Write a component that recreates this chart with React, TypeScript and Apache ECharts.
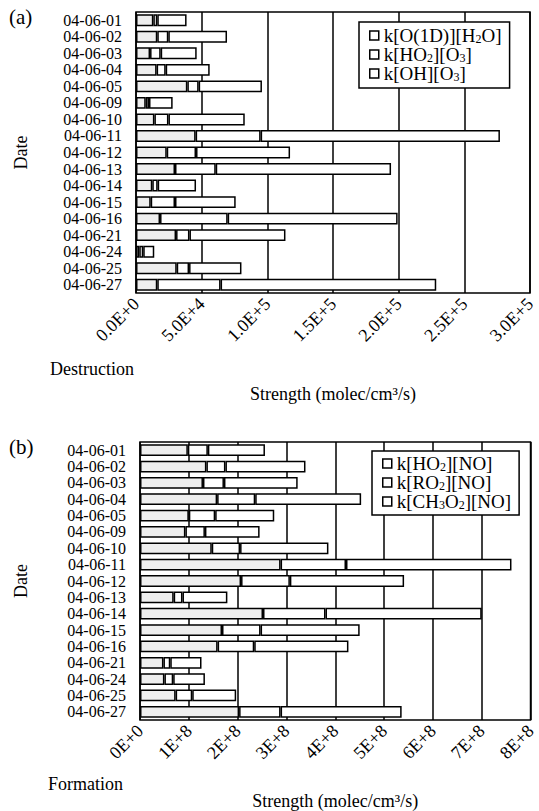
import React, { useEffect, useRef } from "react";
import * as echarts from "echarts";

const dates = [
  "04-06-01", "04-06-02", "04-06-03", "04-06-04", "04-06-05", "04-06-09",
  "04-06-10", "04-06-11", "04-06-12", "04-06-13", "04-06-14", "04-06-15",
  "04-06-16", "04-06-21", "04-06-24", "04-06-25", "04-06-27",
];

// (a) Destruction
const destNames = ["k[O(1D)][H2O]", "k[HO2][O3]", "k[OH][O3]"];
const destO1DH2O = [13200, 16200, 10700, 15700, 39100, 7400, 14000, 45400, 23400, 29700, 12400, 11200, 18300, 30500, 2500, 31000, 16200];
const destHO2O3 = [3000, 8400, 8100, 6900, 8600, 2500, 10700, 49500, 22300, 31000, 4100, 18500, 51500, 10200, 3000, 9400, 48200];
const destOHO3 = [22300, 44700, 27400, 33500, 48200, 18000, 58100, 182200, 71600, 133500, 29200, 46200, 129400, 73100, 8400, 39900, 164200];

// (b) Formation
const formNames = ["k[HO2][NO]", "k[RO2][NO]", "k[CH3O2][NO]"];
const formHO2NO = [0.98e8, 1.36e8, 1.29e8, 1.58e8, 1.0e8, 0.93e8, 1.47e8, 2.88e8, 2.07e8, 0.69e8, 2.52e8, 1.68e8, 1.59e8, 0.48e8, 0.5e8, 0.73e8, 2.03e8];
const formRO2NO = [0.41e8, 0.39e8, 0.43e8, 0.78e8, 0.54e8, 0.4e8, 0.58e8, 1.34e8, 1.0e8, 0.18e8, 1.28e8, 0.79e8, 0.75e8, 0.14e8, 0.18e8, 0.34e8, 0.85e8];
const formCH3O2NO = [1.17e8, 1.64e8, 1.51e8, 2.17e8, 1.21e8, 1.12e8, 1.81e8, 3.39e8, 2.34e8, 0.92e8, 3.2e8, 2.03e8, 1.93e8, 0.64e8, 0.65e8, 0.9e8, 2.48e8];

const legendRich: Record<string, string> = {
  "k[O(1D)][H2O]": "{t|k[O(1D)][H}{s|2}{t|O]}",
  "k[HO2][O3]": "{t|k[HO}{s|2}{t|][O}{s|3}{t|]}",
  "k[OH][O3]": "{t|k[OH][O}{s|3}{t|]}",
  "k[HO2][NO]": "{t|k[HO}{s|2}{t|][NO]}",
  "k[RO2][NO]": "{t|k[RO}{s|2}{t|][NO]}",
  "k[CH3O2][NO]": "{t|k[CH}{s|3}{t|O}{s|2}{t|][NO]}",
};

const FONT = "Liberation Serif";
const fills = ["#eeeeee", "#ffffff", "#ffffff"];

function sciFmt(v: number, digits: number) {
  if (v === 0) return (0).toFixed(digits) + "E+0";
  const e = Math.floor(Math.log10(v) + 1e-9);
  const m = v / Math.pow(10, e);
  return m.toFixed(digits) + "E+" + e;
}

export default function App() {
  const ref = useRef<HTMLDivElement>(null);
  useEffect(() => {
    if (!ref.current) return;
    const chart = echarts.init(ref.current, undefined, { renderer: "svg" });
    const axisLabel = { color: "#000", fontFamily: FONT, fontSize: 18 };
    const legendBase = (lh: number) => ({
      orient: "vertical" as const,
      icon: "rect",
      itemWidth: 9,
      itemHeight: 9,
      itemGap: 0,
      backgroundColor: "#fff",
      borderColor: "#000",
      borderWidth: 1.5,
      borderRadius: 0,
      formatter: (n: string) => legendRich[n] || n,
      textStyle: {
        color: "#000",
        fontFamily: FONT,
        fontSize: 19,
        rich: {
          t: { fontSize: 19, fontFamily: FONT, color: "#000", lineHeight: lh },
          s: { fontSize: 12, fontFamily: FONT, color: "#000", padding: [6, 0, 0, 0] },
        },
      },
    });
    const mkLegendData = (names: string[]) =>
      names.map((n) => ({
        name: n,
        itemStyle: { color: "#fff", borderColor: "#000", borderWidth: 1.5 },
      }));
    const mkSeries = (names: string[], arrays: number[][], idx: number) =>
      names.map((n, i) => ({
        name: n,
        type: "bar" as const,
        stack: "s" + idx,
        xAxisIndex: idx,
        yAxisIndex: idx,
        barCategoryGap: "28%",
        data: arrays[i],
        itemStyle: { color: fills[i], borderColor: "#000", borderWidth: 1.5 },
        emphasis: { disabled: true },
      }));
    const xBase = (idx: number, max: number, interval: number, digits: number, gap: number) => ({
      type: "value" as const,
      gridIndex: idx,
      min: 0,
      max,
      interval,
      name: "Strength (molec/cm³/s)",
      nameLocation: "middle" as const,
      nameGap: gap,
      nameTextStyle: { color: "#000", fontFamily: FONT, fontSize: 18 },
      axisLine: { show: false },
      axisTick: { show: false },
      axisLabel: {
        ...axisLabel,
        rotate: 45,
        margin: 8,
        showMinLabel: true,
        showMaxLabel: true,
        formatter: (v: number) => sciFmt(v, digits),
      },
      splitLine: { show: true, lineStyle: { color: "#000", width: 1.5 } },
    });
    const yBase = (idx: number, gap: number) => ({
      type: "category" as const,
      gridIndex: idx,
      data: dates,
      inverse: true,
      name: "Date",
      nameLocation: "middle" as const,
      nameRotate: 90,
      nameGap: gap,
      nameTextStyle: { color: "#000", fontFamily: FONT, fontSize: 18 },
      axisLine: { show: false },
      axisTick: { show: false },
      axisLabel: { ...axisLabel, fontSize: 16, lineHeight: 16, margin: 14, interval: 0 },
      splitLine: { show: false },
    });
    chart.setOption({
      animation: false,
      backgroundColor: "#fff",
      textStyle: { fontFamily: FONT },
      grid: [
        { left: 136, top: 12, width: 394, height: 281, show: true, borderColor: "#000", borderWidth: 1.5, backgroundColor: "transparent" },
        { left: 140, top: 442, width: 393, height: 282, show: true, borderColor: "#000", borderWidth: 1.5, backgroundColor: "transparent" },
      ],
      xAxis: [xBase(0, 3e5, 5e4, 1, 92), xBase(1, 8e8, 1e8, 0, 72)],
      yAxis: [yBase(0, 106), yBase(1, 110)],
      legend: [
        { ...legendBase(22), data: mkLegendData(destNames), left: 359, top: 22, padding: [4, 8, 5, 10] },
        { ...legendBase(21), data: mkLegendData(formNames), left: 372, top: 451, padding: [3, 8, 4, 10] },
      ],
      series: [
        ...mkSeries(destNames, [destO1DH2O, destHO2O3, destOHO3], 0),
        ...mkSeries(formNames, [formHO2NO, formRO2NO, formCH3O2NO], 1),
      ],
      graphic: [
        { type: "text", left: 9, top: 6, style: { text: "(a)", fontFamily: FONT, fontSize: 21, fill: "#000" } },
        { type: "text", left: 9, top: 436, style: { text: "(b)", fontFamily: FONT, fontSize: 21, fill: "#000" } },
        { type: "text", left: 50, top: 360, style: { text: "Destruction", fontFamily: FONT, fontSize: 18, fill: "#000" } },
        { type: "text", left: 48, top: 775, style: { text: "Formation", fontFamily: FONT, fontSize: 18, fill: "#000" } },
      ],
    });
    return () => chart.dispose();
  }, []);
  return (
    <div
      ref={ref}
      style={{ position: "fixed", left: 0, top: 0, width: 539, height: 811, background: "#fff" }}
    />
  );
}
